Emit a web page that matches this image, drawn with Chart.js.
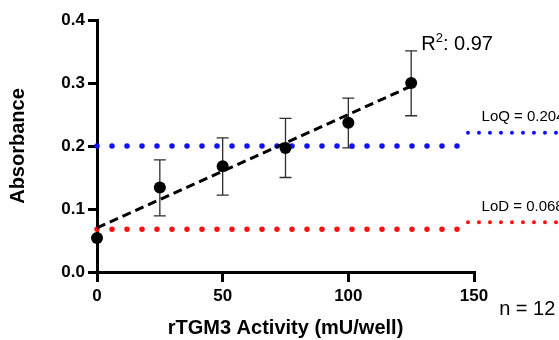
<!DOCTYPE html>
<html>
<head>
<meta charset="utf-8">
<script src="https://cdn.jsdelivr.net/npm/chart.js@4/dist/chart.umd.min.js"></script>
<style>
  html, body { margin: 0; padding: 0; background: #fff; }
</style>
</head>
<body>
<canvas id="std-curve" width="559" height="340"></canvas>
<script>
// rTGM3 standard curve
var activity = [0, 25, 50, 75, 100, 125];
var absorbance = [0.054, 0.134, 0.168, 0.197, 0.237, 0.300];
var errLow = [0.054, 0.089, 0.122, 0.150, 0.197, 0.248];
var errHigh = [0.054, 0.178, 0.213, 0.244, 0.276, 0.351];

var fitX = [0, 125];
var fitY = [0.070, 0.295];

var loqX = [0, 145];
var loqY = [0.2, 0.2];
var loqExtX = [147.6, 184];
var loqExtY = [0.221, 0.221];

var lodX = [0, 145];
var lodY = [0.068, 0.068];
var lodExtX = [147.6, 184];
var lodExtY = [0.079, 0.079];

var xTicks = [0, 50, 100, 150];
var yTicks = [0.0, 0.1, 0.2, 0.3, 0.4];

var rSquared = "0.97";
var loqLabel = "LoQ = 0.204";
var lodLabel = "LoD = 0.068";
var nLabel = "n = 12";

function toPoints(xs, ys) {
	return xs.map(function(x, i) { return { x: x, y: ys[i] }; });
}

var FONT = "'Liberation Sans', Arial, sans-serif";

// error bars drawn under the points
var errorBars = {
	id: "errorBars",
	beforeDatasetsDraw: function(chart) {
		var ctx = chart.ctx;
		var xs = chart.scales.x, ys = chart.scales.y;
		ctx.save();
		ctx.strokeStyle = "#2e2e2e";
		ctx.lineWidth = 1.3;
		activity.forEach(function(a, i) {
			if (errHigh[i] - errLow[i] < 0.005) return;
			var px = xs.getPixelForValue(a);
			var top = ys.getPixelForValue(errHigh[i]);
			var bot = ys.getPixelForValue(errLow[i]);
			ctx.beginPath();
			ctx.moveTo(px, top); ctx.lineTo(px, bot);
			ctx.moveTo(px - 6, top); ctx.lineTo(px + 6, top);
			ctx.moveTo(px - 6, bot); ctx.lineTo(px + 6, bot);
			ctx.stroke();
		});
		ctx.restore();
	}
};

// text annotations
var notes = {
	id: "notes",
	afterDraw: function(chart) {
		var ctx = chart.ctx;
		var xs = chart.scales.x, ys = chart.scales.y;
		ctx.save();
		ctx.fillStyle = "#000";
		ctx.textBaseline = "alphabetic";
		ctx.textAlign = "left";

		// R squared
		var rx = xs.getPixelForValue(129);
		var ry = ys.getPixelForValue(0.352);
		ctx.font = "20px " + FONT;
		ctx.fillText("R", rx, ry);
		var w = ctx.measureText("R").width;
		ctx.font = "13px " + FONT;
		ctx.fillText("2", rx + w, ry - 8);
		var w2 = ctx.measureText("2").width;
		ctx.font = "20px " + FONT;
		ctx.fillText(": " + rSquared, rx + w + w2, ry);

		// limits
		ctx.font = "15px " + FONT;
		ctx.textBaseline = "middle";
		ctx.fillText(loqLabel, xs.getPixelForValue(153), ys.getPixelForValue(0.246));
		ctx.fillText(lodLabel, xs.getPixelForValue(153), ys.getPixelForValue(0.103));

		// n
		ctx.font = "20px " + FONT;
		ctx.fillText(nLabel, xs.getPixelForValue(160), chart.chartArea.bottom + 37);
		ctx.restore();
	}
};

var ctx = document.getElementById("std-curve");

var data = {
	datasets: [
		{
			label: "Absorbance",
			data: toPoints(activity, absorbance),
			showLine: false,
			pointRadius: 6,
			pointBackgroundColor: "#000",
			pointBorderColor: "#000",
			pointBorderWidth: 0,
			clip: false
		},
		{
			label: "Fit",
			data: toPoints(fitX, fitY),
			borderColor: "#000",
			borderWidth: 3,
			borderDash: [9, 5],
			pointRadius: 0,
			clip: false
		},
		{
			label: "LoQ",
			data: toPoints(loqX, loqY),
			borderColor: "#1010ff",
			borderWidth: 5.5,
			borderDash: [0, 15],
			borderCapStyle: "round",
			pointRadius: 0,
			clip: false
		},
		{
			label: "LoQ ext",
			data: toPoints(loqExtX, loqExtY),
			borderColor: "#1010ff",
			borderWidth: 4,
			borderDash: [0, 11],
			borderCapStyle: "round",
			pointRadius: 0,
			clip: false
		},
		{
			label: "LoD",
			data: toPoints(lodX, lodY),
			borderColor: "#ff1010",
			borderWidth: 5.5,
			borderDash: [0, 15],
			borderCapStyle: "round",
			pointRadius: 0,
			clip: false
		},
		{
			label: "LoD ext",
			data: toPoints(lodExtX, lodExtY),
			borderColor: "#ff1010",
			borderWidth: 4,
			borderDash: [0, 11],
			borderCapStyle: "round",
			pointRadius: 0,
			clip: false
		}
	]
};

var options = {
	responsive: false,
	animation: false,
	devicePixelRatio: 1,
	layout: { padding: { top: 20, right: 85, left: 0, bottom: 0 } },
	plugins: {
		legend: { display: false },
		tooltip: { enabled: false }
	},
	scales: {
		x: {
			type: "linear",
			min: 0,
			max: 150,
			afterFit: function(scale) { scale.height = 68; },
			afterBuildTicks: function(scale) {
				scale.ticks = xTicks.map(function(v) { return { value: v }; });
			},
			ticks: {
				color: "#000",
				padding: 4,
				maxRotation: 0,
				font: { family: FONT, size: 17, weight: "bold" }
			},
			grid: {
				display: true,
				drawOnChartArea: false,
				drawTicks: true,
				tickLength: 10,
				color: "#000",
				lineWidth: 3
			},
			border: { display: true, color: "#000", width: 3 },
			title: {
				display: true,
				text: "rTGM3 Activity (mU/well)",
				color: "#000",
				font: { family: FONT, size: 20, weight: "bold" },
				padding: { top: 0, bottom: 0 }
			}
		},
		y: {
			min: 0,
			max: 0.4,
			afterFit: function(scale) { scale.width = 97; },
			afterBuildTicks: function(scale) {
				scale.ticks = yTicks.map(function(v) { return { value: v }; });
			},
			ticks: {
				color: "#000",
				padding: 3,
				font: { family: FONT, size: 17, weight: "bold" },
				callback: function(v) { return Number(v).toFixed(1); }
			},
			grid: {
				display: true,
				drawOnChartArea: false,
				drawTicks: true,
				tickLength: 9,
				color: "#000",
				lineWidth: 3
			},
			border: { display: true, color: "#000", width: 3 },
			title: {
				display: true,
				text: "Absorbance",
				color: "#000",
				font: { family: FONT, size: 20, weight: "bold" },
				padding: { top: 6, bottom: 0 }
			}
		}
	}
};

var chart = new Chart(ctx, {
	type: "line",
	data: data,
	options: options,
	plugins: [errorBars, notes]
});
</script>
</body>
</html>
